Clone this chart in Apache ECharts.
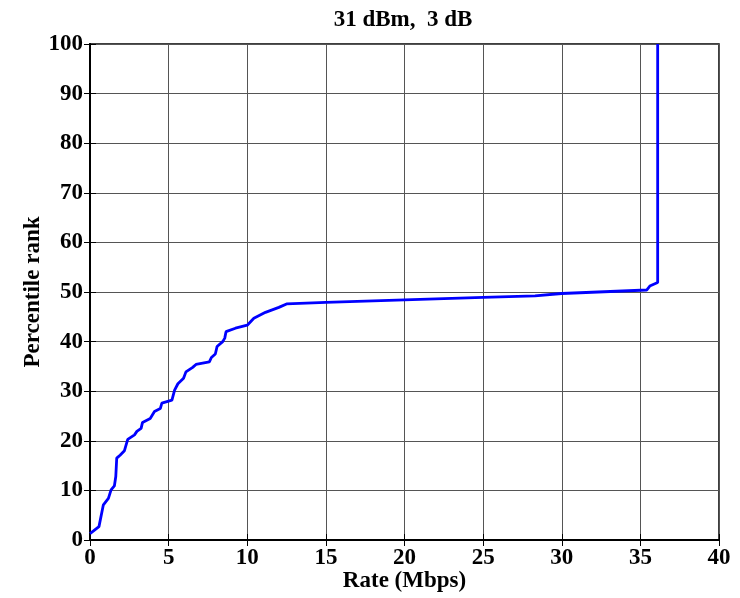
<!DOCTYPE html>
<html>
<head>
<meta charset="utf-8">
<script src="https://cdn.jsdelivr.net/npm/echarts@6/dist/echarts.min.js"></script>
<style>
html,body{margin:0;padding:0;background:#fff;}
#chart{width:740px;height:598px;}
</style>
</head>
<body>
<div id="chart"></div>
<script>
const titleText = '31 dBm,  3 dB';
const xLabel = 'Rate (Mbps)';
const yLabel = 'Percentile rank';
const rateMbps = [0, 0.57, 0.85, 1.17, 1.34, 1.55, 1.64, 1.70, 1.91, 2.19, 2.40, 2.83, 2.98, 3.25, 3.34, 3.83, 4.10, 4.47, 4.57, 5.21, 5.38, 5.59, 5.95, 6.10, 6.53, 6.74, 7.59, 7.72, 7.97, 8.08, 8.44, 8.57, 8.65, 9.25, 10.0, 10.42, 11.16, 12.01, 12.5, 15, 20, 25, 28.3, 30, 35.4, 35.6, 36.1, 36.1];
const percentile = [1.3, 2.7, 7.1, 8.4, 10.1, 10.9, 12.8, 16.5, 17.1, 18.0, 20.3, 21.2, 21.9, 22.5, 23.7, 24.5, 25.9, 26.5, 27.6, 28.2, 30.2, 31.5, 32.6, 33.9, 34.8, 35.4, 35.9, 36.8, 37.5, 39.0, 40.0, 40.7, 42.0, 42.7, 43.3, 44.7, 45.9, 46.9, 47.6, 47.9, 48.4, 48.9, 49.2, 49.7, 50.4, 51.2, 51.9, 100];

const font = 'Liberation Serif, Times New Roman, serif';
const chart = echarts.init(document.getElementById('chart'));
const pts = rateMbps.map((x, i) => [x, percentile[i]]);
const gridLine = {show: true, lineStyle: {color: '#555', width: 1}};
const labelStyle = {color: '#000', fontFamily: font, fontWeight: 'bold', fontSize: 23};
const nameStyle = {color: '#000', fontFamily: font, fontWeight: 'bold', fontSize: 23};
chart.setOption({
  animation: false,
  backgroundColor: '#fff',
  title: {
    text: titleText, left: 398, top: 4, textAlign: 'center',
    textStyle: {color: '#000', fontFamily: font, fontWeight: 'bold', fontSize: 23}
  },
  grid: {left: 90, right: 21, top: 44, bottom: 58, outerBoundsMode: 'none', containLabel: false,
    show: true, borderColor: '#000', borderWidth: 1.5, backgroundColor: '#fff'},
  xAxis: [{
    type: 'value', min: 0, max: 40, interval: 5,
    name: xLabel, nameLocation: 'middle', nameGap: 30, nameMoveOverlap: false,
    nameTextStyle: nameStyle,
    axisLine: {show: true, lineStyle: {color: '#000', width: 2}},
    axisTick: {show: true, inside: true, length: 6, lineStyle: {color: '#000'}},
    axisLabel: Object.assign({margin: 7}, labelStyle),
    splitLine: gridLine
  }, {
    type: 'value', min: 0, max: 40, interval: 5, position: 'top',
    axisLine: {show: true, lineStyle: {color: '#000', width: 2}},
    axisTick: {show: true, inside: true, length: 6, lineStyle: {color: '#000'}},
    axisLabel: {show: false}, splitLine: {show: false}
  }],
  yAxis: [{
    type: 'value', min: 0, max: 100, interval: 10,
    name: yLabel, nameLocation: 'middle', nameGap: 45, nameRotate: 90, nameMoveOverlap: false,
    nameTextStyle: nameStyle,
    axisLine: {show: true, lineStyle: {color: '#000', width: 2}},
    axisTick: {show: true, inside: true, length: 6, lineStyle: {color: '#000'}},
    axisLabel: Object.assign({margin: 7}, labelStyle),
    splitLine: gridLine
  }, {
    type: 'value', min: 0, max: 100, interval: 10, position: 'right',
    axisLine: {show: true, lineStyle: {color: '#000', width: 2}},
    axisTick: {show: true, inside: true, length: 6, lineStyle: {color: '#000'}},
    axisLabel: {show: false}, splitLine: {show: false}
  }],
  series: [{
    type: 'line', data: pts, showSymbol: false, symbol: 'none',
    lineStyle: {color: '#0000ff', width: 2.8}, z: 5
  }]
});
</script>
</body>
</html>
